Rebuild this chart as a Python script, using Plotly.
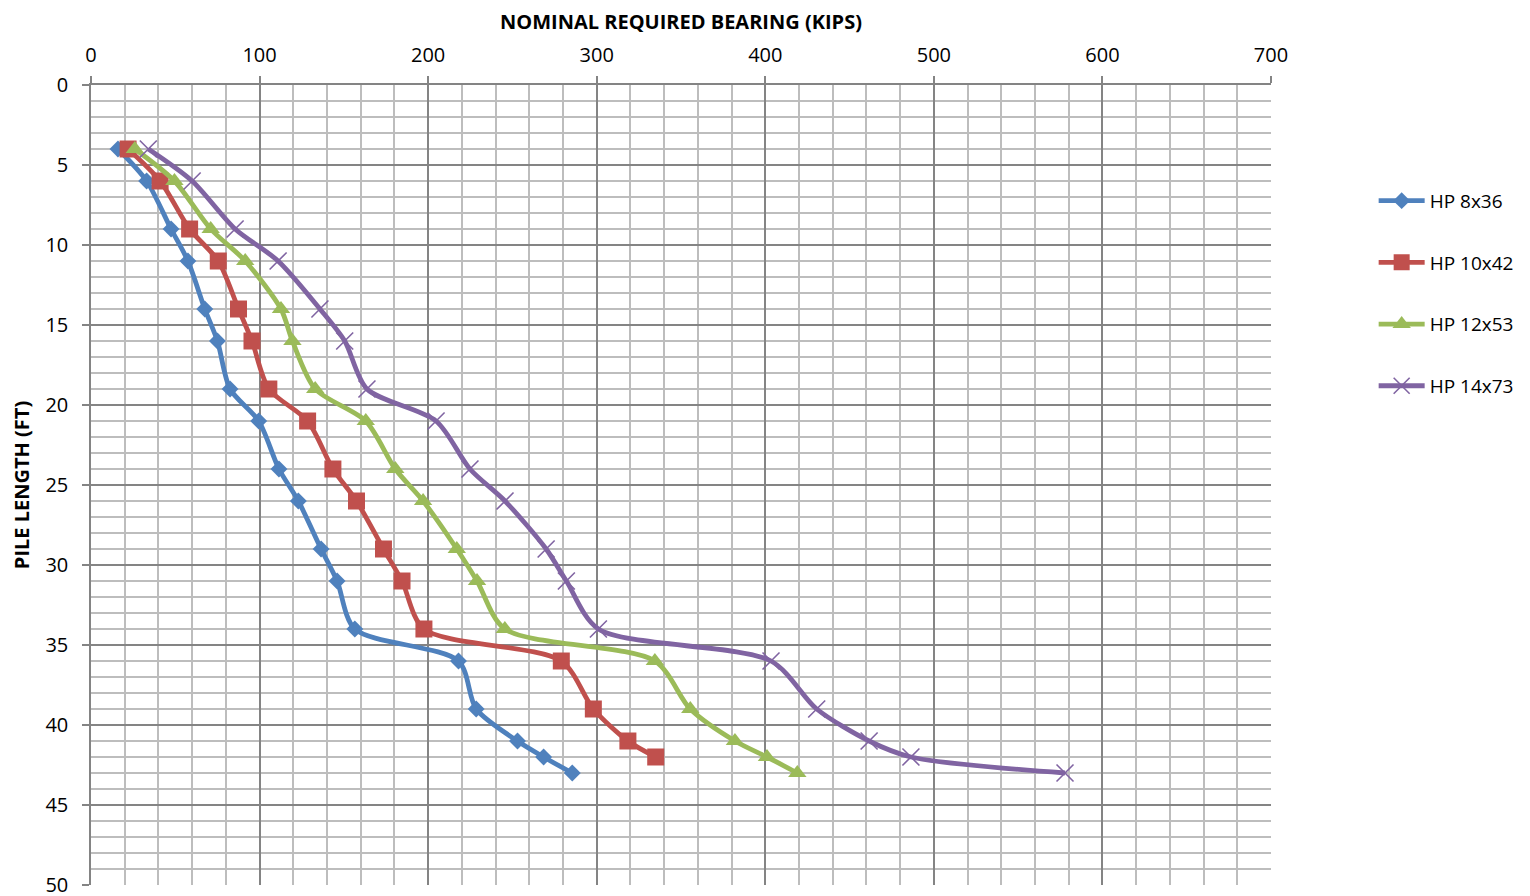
import plotly.graph_objects as go

pile_length = [4, 6, 9, 11, 14, 16, 19, 21, 24, 26, 29, 31, 34, 36, 39, 41, 42, 43]

hp8x36 = [16, 33, 47.5, 57.5, 67.5, 75, 82.5, 99.5, 111.5, 123, 136.5, 146, 156.5, 218, 228.5, 253, 268.5, 285.5]
hp10x42_len = [4, 6, 9, 11, 14, 16, 19, 21, 24, 26, 29, 31, 34, 36, 39, 41, 42]
hp10x42 = [22, 41, 58.5, 75.5, 87.5, 95.5, 105.5, 128.5, 143.5, 157.5, 173.5, 184.5, 197.5, 279, 298, 318.5, 335]
hp12x53 = [26, 49.5, 71, 91.5, 112.7, 119.5, 133, 163, 180.5, 197, 217, 229, 245.5, 334.5, 355.5, 382, 401, 419]
hp14x73 = [34, 60, 85.5, 111, 135.8, 150.5, 163.7, 204.7, 224.8, 245.6, 270, 282, 301, 403.4, 430.5, 461.6, 486.4, 577.8]

series = [
    ("HP 8x36", pile_length, hp8x36, "#4F81BD", "diamond", 13),
    ("HP 10x42", hp10x42_len, hp10x42, "#C0504D", "square", 17),
    ("HP 12x53", pile_length, hp12x53, "#9BBB59", "triangle-up", 16),
    ("HP 14x73", pile_length, hp14x73, "#8064A2", "x-thin", 17),
]

fig = go.Figure()
for i, (name, ys, xs, color, sym, size) in enumerate(series):
    marker = dict(symbol=sym, size=size, color=color)
    if sym == "x-thin":
        marker["line"] = dict(color=color, width=1.6)
    fig.add_trace(go.Scatter(
        x=xs, y=ys, name=name, mode="lines+markers",
        line=dict(color=color, width=4.8, shape="spline", smoothing=0.8),
        marker=marker, legendgroup=f"g{i}",
    ))

font = "Open Sans"
fig.update_layout(
    width=1522, height=888,
    margin=dict(l=83, r=259, t=77, b=11),
    paper_bgcolor="white", plot_bgcolor="white",
    font=dict(family=font, size=20, color="#000000"),
    showlegend=True,
    legend=dict(x=1.087, xanchor="left", xref="paper", y=0.879, yanchor="top",
                font=dict(size=19, family=font), tracegroupgap=34,
                bgcolor="rgba(0,0,0,0)", itemwidth=46),
    xaxis=dict(
        side="top", range=[0, 700], dtick=100, tick0=0, automargin=False,
        showgrid=True, gridcolor="#848484", gridwidth=1.5,
        showline=True, linecolor="#848484", linewidth=1.5,
        ticks="outside", ticklen=7, tickcolor="#848484", tickwidth=1.5,
        ticklabelstandoff=6, ticklabeloverflow="allow",
        minor=dict(dtick=20, showgrid=True, gridcolor="#bdbdbd", gridwidth=1.5, ticklen=0),
        zeroline=False,
        title=dict(text="<b>NOMINAL REQUIRED BEARING (KIPS)</b>", font=dict(size=20, family=font), standoff=8),
        tickfont=dict(size=20),
    ),
    yaxis=dict(
        range=[50, 0], dtick=5, tick0=0, automargin=False,
        showgrid=True, gridcolor="#848484", gridwidth=1.5,
        showline=True, linecolor="#848484", linewidth=1.5,
        ticks="outside", ticklen=7, tickcolor="#848484", tickwidth=1.5,
        ticklabelstandoff=10, ticklabeloverflow="allow",
        minor=dict(dtick=1, showgrid=True, gridcolor="#bdbdbd", gridwidth=1.5, ticklen=0),
        zeroline=False,
        title=dict(text="<b>PILE LENGTH (FT)</b>", font=dict(size=20, family=font), standoff=10),
        tickfont=dict(size=20),
    ),
)

fig.write_html("out.html")
